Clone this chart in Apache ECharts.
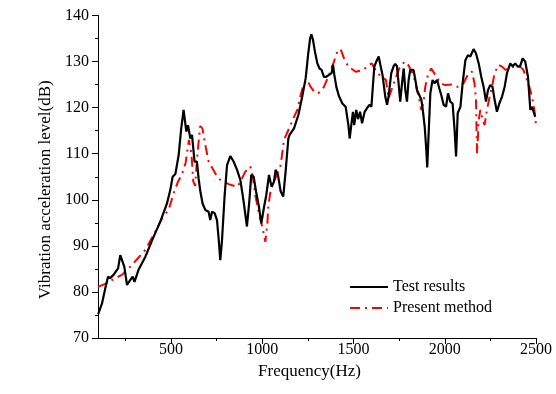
<!DOCTYPE html>
<html>
<head>
<meta charset="utf-8">
<script src="https://cdn.jsdelivr.net/npm/echarts@6/dist/echarts.min.js"></script>
<style>html,body{margin:0;padding:0;background:#fff}#c{width:556px;height:394px}</style>
</head>
<body>
<div id="c"></div>
<script>
var seriesNames = ['Test results', 'Present method'];
var xTickValues = [500, 1000, 1500, 2000, 2500];
var xMinorTickValues = [250, 750, 1250, 1750, 2250];

var testFreq = [101,122,140,155,167,185,210,222,231,244,259,277,290,300,322,359,405,441,478,496,509,524,542,556,569,575,584,593,606,615,629,642,651,661,673,688,697,706,715,725,739,752,761,770,779,794,807,825,843,862,880,898,916,929,940,953,966,980,995,1010,1022,1037,1051,1064,1073,1086,1101,1115,1128,1143,1150,1174,1198,1219,1238,1251,1262,1269,1278,1289,1302,1314,1325,1338,1351,1366,1380,1388,1395,1406,1421,1439,1457,1472,1479,1490,1497,1504,1515,1525,1536,1547,1561,1574,1587,1598,1607,1614,1625,1638,1647,1659,1674,1684,1692,1707,1720,1729,1738,1747,1756,1766,1775,1784,1793,1802,1811,1820,1829,1839,1848,1861,1872,1881,1890,1899,1904,1911,1921,1933,1944,1958,1970,1981,1994,2007,2018,2030,2043,2054,2062,2071,2086,2098,2113,2127,2140,2158,2171,2186,2200,2213,2226,2237,2249,2262,2273,2286,2299,2314,2328,2341,2359,2372,2386,2400,2413,2427,2441,2456,2469,2478,2487,2496];
var testLevel = [75.2,77.5,80.8,83.3,83.0,83.7,85.1,88.0,88.2,85.5,81.5,82.6,83.3,82.2,84.8,87.6,92.0,95.2,99.2,102.1,105.0,105.6,109.7,115.5,119.5,119.7,114.8,116.2,113.3,114.1,108.3,108.3,104.7,101.8,99.2,97.8,98.1,97.4,95.6,97.4,97.1,95.6,91.6,86.9,90.9,101.0,107.5,109.5,108.3,106.5,104.3,99.6,94.2,99.6,105.4,105.0,101.8,98.9,94.9,98.5,101.0,105.4,102.8,103.9,106.5,105.4,101.8,100.7,106.1,113.3,114.1,115.5,118.4,122.4,126.4,131.4,135.0,135.9,134.7,132.1,129.6,128.5,128.2,126.7,126.7,127.1,127.5,129.3,127.1,124.5,122.4,120.9,120.2,116.2,113.3,116.9,119.1,116.2,119.5,117.5,119.1,116.6,119.1,119.9,120.6,120.2,120.6,128.9,130.0,131.1,129.3,127.1,122.4,120.6,122.4,127.5,129.0,129.5,129.0,125.3,121.3,125.3,128.5,123.8,121.3,126.0,128.2,128.5,128.2,126.0,123.8,122.7,121.7,119.1,115.9,110.8,107.0,113.7,123.1,126.0,125.3,126.0,124.2,122.7,120.6,120.2,123.1,121.3,120.9,115.1,109.4,118.8,120.2,125.3,130.3,131.4,131.1,132.7,131.8,129.6,126.7,124.5,121.3,123.8,124.9,124.5,121.7,119.1,120.9,122.4,124.5,127.5,129.6,129.0,129.6,128.9,129.0,130.7,130.0,126.7,119.5,120.2,119.1,118.0];

var methodFreq = [100,149,195,231,268,314,359,405,451,487,514,538,560,580,598,612,622,632,645,660,672,688,706,743,770,816,862,880,907,935,947,962,980,1002,1017,1028,1033,1046,1070,1101,1119,1155,1174,1192,1210,1229,1247,1265,1284,1307,1338,1366,1393,1411,1429,1448,1472,1512,1555,1583,1601,1629,1656,1678,1692,1714,1733,1751,1780,1799,1820,1839,1848,1861,1872,1884,1893,1908,1926,1948,1976,2003,2040,2070,2103,2131,2149,2163,2171,2177,2182,2186,2195,2204,2218,2231,2244,2259,2273,2295,2314,2332,2386,2413,2431,2451,2469,2481,2491,2500];
var methodLevel = [81.1,81.9,83.0,83.7,85.1,87.1,89.1,92.4,96.0,97.8,101.4,103.9,105.5,108.0,113.0,110.0,104.0,103.0,110.0,116.0,115.5,111.9,108.3,105.7,104.3,103.4,102.8,103.9,106.1,107.2,105.4,101.0,97.4,93.8,90.9,94.9,98.5,102.1,104.5,107.5,113.0,116.2,118.0,119.5,122.7,125.3,126.0,124.5,123.5,123.1,124.5,127.1,130.0,132.1,132.7,130.7,128.9,127.8,128.2,129.3,129.6,127.5,126.7,126.0,122.0,124.5,126.7,128.5,130.0,129.3,127.8,125.6,123.8,121.7,119.5,121.3,124.5,127.1,128.5,127.1,125.3,124.9,125.0,124.5,125.3,127.5,127.8,125.3,121.7,110.1,113.7,117.3,119.5,118.0,116.2,119.5,122.0,124.5,127.5,129.3,128.9,128.2,129.0,128.9,128.2,126.0,123.8,121.7,119.5,116.2];

function zip(a, b) { return a.map(function (v, i) { return [v, b[i]]; }); }

var font = "'Liberation Serif', 'Times New Roman', serif";
var chart = echarts.init(document.getElementById('c'));
chart.setOption({
  animation: false,
  backgroundColor: '#fff',
  grid: { left: 98, right: 20, top: 15.5, bottom: 56, containLabel: false },
  legend: {
    orient: 'vertical', left: 344, top: 274,
    itemWidth: 38, itemHeight: 14, itemGap: 5,
    itemStyle: { opacity: 0 },
    textStyle: { fontFamily: font, fontSize: 16, color: '#000' },
    data: seriesNames
  },
  xAxis: [{
    type: 'value', min: 100, max: 2500,
    name: 'Frequency(Hz)', nameLocation: 'middle', nameGap: 21,
    nameTextStyle: { fontFamily: font, fontSize: 17, color: '#000', padding: [0, 15, 0, 0] },
    axisLine: { show: true, onZero: false, lineStyle: { color: '#000', width: 1 } },
    axisTick: { show: true, length: 6, customValues: xTickValues, lineStyle: { color: '#000' } },
    axisLabel: { customValues: xTickValues, formatter: function (v) { return String(v); }, fontFamily: font, fontSize: 16, color: '#000', margin: 4 },
    splitLine: { show: false }
  }, {
    type: 'value', min: 100, max: 2500, position: 'bottom',
    axisLine: { show: false },
    axisTick: { show: true, length: 3, customValues: xMinorTickValues, lineStyle: { color: '#000' } },
    axisLabel: { show: false },
    splitLine: { show: false }
  }],
  yAxis: {
    type: 'value', min: 70, max: 140, interval: 10,
    name: 'Vibration acceleration level(dB)', nameLocation: 'middle', nameGap: 41,
    nameTextStyle: { fontFamily: font, fontSize: 17, color: '#000', padding: [0, 26, 0, 0] },
    axisLine: { show: true, lineStyle: { color: '#000', width: 1 } },
    axisTick: { show: true, length: 6, lineStyle: { color: '#000' } },
    minorTick: { show: true, splitNumber: 2, length: 3, lineStyle: { color: '#000' } },
    axisLabel: { fontFamily: font, fontSize: 16, color: '#000', margin: 9 },
    splitLine: { show: false }
  },
  series: [{
    name: seriesNames[0], type: 'line', symbol: 'none', smooth: false,
    data: zip(testFreq, testLevel),
    lineStyle: { color: '#000', width: 2.2 }, itemStyle: { color: '#000' }, z: 3
  }, {
    name: seriesNames[1], type: 'line', symbol: 'none', smooth: false,
    data: zip(methodFreq, methodLevel),
    lineStyle: { color: '#ff0000', width: 2, type: [10, 5, 2, 5] }, itemStyle: { color: '#ff0000' }, z: 2
  }]
});
</script>
</body>
</html>
